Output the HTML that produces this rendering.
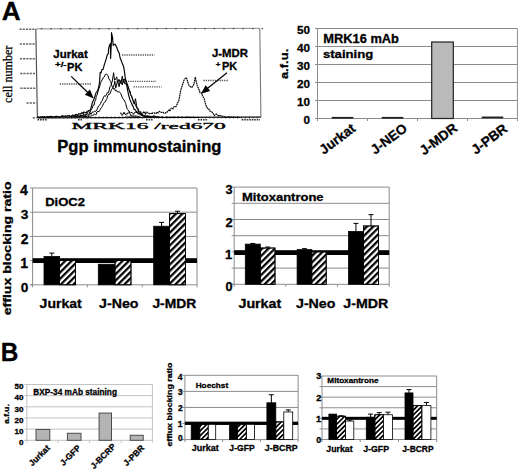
<!DOCTYPE html>
<html><head><meta charset="utf-8"><style>
html,body{margin:0;padding:0;background:#fff;}
svg{display:block;}
text{stroke:#000;stroke-width:0.3px;stroke-linejoin:round;}
</style></head><body>
<svg width="520" height="470" viewBox="0 0 520 470">
<rect width="520" height="470" fill="#fff"/>
<defs>
<pattern id="h1" patternUnits="userSpaceOnUse" width="4.5" height="4.5" patternTransform="rotate(45)"><rect x="0" y="0" width="2.25" height="4.5" fill="#000"/></pattern>
<pattern id="h2" patternUnits="userSpaceOnUse" width="3.4" height="3.4" patternTransform="rotate(45)"><rect x="0" y="0" width="1.70" height="3.4" fill="#000"/></pattern>
</defs>
<text transform="translate(1.65,19.50) scale(1.024,1)" font-size="25.51" font-weight="bold" font-family='"Liberation Sans", sans-serif' fill="#000" text-anchor="start">A</text>
<text transform="translate(0.71,361.20) scale(0.963,1)" font-size="25.36" font-weight="bold" font-family='"Liberation Sans", sans-serif' fill="#000" text-anchor="start">B</text>
<line x1="35.80" y1="28.90" x2="259.80" y2="28.30" stroke="#888" stroke-width="1" />
<line x1="40.80" y1="28.60" x2="42.30" y2="28.60" stroke="#444" stroke-width="1.2" />
<line x1="50.40" y1="28.60" x2="51.90" y2="28.60" stroke="#444" stroke-width="1.2" />
<line x1="60.00" y1="28.60" x2="61.50" y2="28.60" stroke="#444" stroke-width="1.2" />
<line x1="69.60" y1="28.60" x2="71.10" y2="28.60" stroke="#444" stroke-width="1.2" />
<line x1="79.20" y1="28.60" x2="80.70" y2="28.60" stroke="#444" stroke-width="1.2" />
<line x1="88.80" y1="28.60" x2="90.30" y2="28.60" stroke="#444" stroke-width="1.2" />
<line x1="98.40" y1="28.60" x2="99.90" y2="28.60" stroke="#444" stroke-width="1.2" />
<line x1="108.00" y1="28.60" x2="109.50" y2="28.60" stroke="#444" stroke-width="1.2" />
<line x1="117.60" y1="28.60" x2="119.10" y2="28.60" stroke="#444" stroke-width="1.2" />
<line x1="127.20" y1="28.60" x2="128.70" y2="28.60" stroke="#444" stroke-width="1.2" />
<line x1="136.80" y1="28.60" x2="138.30" y2="28.60" stroke="#444" stroke-width="1.2" />
<line x1="146.40" y1="28.60" x2="147.90" y2="28.60" stroke="#444" stroke-width="1.2" />
<line x1="156.00" y1="28.60" x2="157.50" y2="28.60" stroke="#444" stroke-width="1.2" />
<line x1="165.60" y1="28.60" x2="167.10" y2="28.60" stroke="#444" stroke-width="1.2" />
<line x1="175.20" y1="28.60" x2="176.70" y2="28.60" stroke="#444" stroke-width="1.2" />
<line x1="184.80" y1="28.60" x2="186.30" y2="28.60" stroke="#444" stroke-width="1.2" />
<line x1="194.40" y1="28.60" x2="195.90" y2="28.60" stroke="#444" stroke-width="1.2" />
<line x1="204.00" y1="28.60" x2="205.50" y2="28.60" stroke="#444" stroke-width="1.2" />
<line x1="213.60" y1="28.60" x2="215.10" y2="28.60" stroke="#444" stroke-width="1.2" />
<line x1="223.20" y1="28.60" x2="224.70" y2="28.60" stroke="#444" stroke-width="1.2" />
<line x1="232.80" y1="28.60" x2="234.30" y2="28.60" stroke="#444" stroke-width="1.2" />
<line x1="242.40" y1="28.60" x2="243.90" y2="28.60" stroke="#444" stroke-width="1.2" />
<line x1="252.00" y1="28.60" x2="253.50" y2="28.60" stroke="#444" stroke-width="1.2" />
<line x1="261.60" y1="28.60" x2="263.10" y2="28.60" stroke="#444" stroke-width="1.2" />
<line x1="259.80" y1="28.30" x2="260.90" y2="117.20" stroke="#777" stroke-width="1.1" />
<line x1="35.80" y1="28.90" x2="37.40" y2="117.80" stroke="#555" stroke-width="1.2" />
<line x1="37.40" y1="117.80" x2="260.90" y2="117.20" stroke="#111" stroke-width="1.3" />
<line x1="19.50" y1="29.20" x2="35.50" y2="29.20" stroke="#666" stroke-width="1.6" stroke-dasharray="2.2,1.0"/>
<line x1="19.70" y1="43.95" x2="35.70" y2="43.95" stroke="#666" stroke-width="1.6" stroke-dasharray="2.2,1.0"/>
<line x1="19.90" y1="58.70" x2="35.90" y2="58.70" stroke="#666" stroke-width="1.6" stroke-dasharray="2.2,1.0"/>
<line x1="20.10" y1="73.45" x2="36.10" y2="73.45" stroke="#666" stroke-width="1.6" stroke-dasharray="2.2,1.0"/>
<line x1="20.30" y1="88.20" x2="36.30" y2="88.20" stroke="#666" stroke-width="1.6" stroke-dasharray="2.2,1.0"/>
<line x1="26.50" y1="102.95" x2="36.50" y2="102.95" stroke="#666" stroke-width="1.6" stroke-dasharray="2.2,1.0"/>
<line x1="32.70" y1="117.70" x2="36.70" y2="117.70" stroke="#666" stroke-width="1.6" stroke-dasharray="2.2,1.0"/>
<line x1="37.50" y1="119.80" x2="47.50" y2="119.80" stroke="#333" stroke-width="1.6" stroke-dasharray="1.6,0.9"/>
<line x1="78.00" y1="119.80" x2="82.00" y2="119.80" stroke="#333" stroke-width="1.6" stroke-dasharray="1.6,0.9"/>
<line x1="146.00" y1="119.80" x2="153.00" y2="119.80" stroke="#333" stroke-width="1.6" stroke-dasharray="1.6,0.9"/>
<line x1="198.00" y1="119.80" x2="208.00" y2="119.80" stroke="#333" stroke-width="1.6" stroke-dasharray="1.6,0.9"/>
<line x1="241.70" y1="119.80" x2="260.00" y2="119.80" stroke="#333" stroke-width="1.6" stroke-dasharray="1.6,0.9"/>
<line x1="40.00" y1="116.30" x2="40.00" y2="118.60" stroke="#333" stroke-width="0.7" />
<line x1="43.95" y1="116.30" x2="43.95" y2="118.60" stroke="#333" stroke-width="0.7" />
<line x1="47.90" y1="116.30" x2="47.90" y2="118.60" stroke="#333" stroke-width="0.7" />
<line x1="51.85" y1="116.30" x2="51.85" y2="118.60" stroke="#333" stroke-width="0.7" />
<line x1="55.80" y1="116.30" x2="55.80" y2="118.60" stroke="#333" stroke-width="0.7" />
<line x1="59.75" y1="116.30" x2="59.75" y2="118.60" stroke="#333" stroke-width="0.7" />
<line x1="63.70" y1="116.30" x2="63.70" y2="118.60" stroke="#333" stroke-width="0.7" />
<line x1="67.65" y1="116.30" x2="67.65" y2="118.60" stroke="#333" stroke-width="0.7" />
<line x1="71.60" y1="116.30" x2="71.60" y2="118.60" stroke="#333" stroke-width="0.7" />
<line x1="75.55" y1="116.30" x2="75.55" y2="118.60" stroke="#333" stroke-width="0.7" />
<line x1="79.50" y1="116.30" x2="79.50" y2="118.60" stroke="#333" stroke-width="0.7" />
<line x1="83.45" y1="116.30" x2="83.45" y2="118.60" stroke="#333" stroke-width="0.7" />
<line x1="87.40" y1="116.30" x2="87.40" y2="118.60" stroke="#333" stroke-width="0.7" />
<line x1="91.35" y1="116.30" x2="91.35" y2="118.60" stroke="#333" stroke-width="0.7" />
<line x1="95.30" y1="116.30" x2="95.30" y2="118.60" stroke="#333" stroke-width="0.7" />
<line x1="99.25" y1="116.30" x2="99.25" y2="118.60" stroke="#333" stroke-width="0.7" />
<line x1="103.20" y1="116.30" x2="103.20" y2="118.60" stroke="#333" stroke-width="0.7" />
<line x1="107.15" y1="116.30" x2="107.15" y2="118.60" stroke="#333" stroke-width="0.7" />
<line x1="111.10" y1="116.30" x2="111.10" y2="118.60" stroke="#333" stroke-width="0.7" />
<line x1="115.05" y1="116.30" x2="115.05" y2="118.60" stroke="#333" stroke-width="0.7" />
<line x1="119.00" y1="116.30" x2="119.00" y2="118.60" stroke="#333" stroke-width="0.7" />
<line x1="122.95" y1="116.30" x2="122.95" y2="118.60" stroke="#333" stroke-width="0.7" />
<line x1="126.90" y1="116.30" x2="126.90" y2="118.60" stroke="#333" stroke-width="0.7" />
<line x1="130.85" y1="116.30" x2="130.85" y2="118.60" stroke="#333" stroke-width="0.7" />
<line x1="134.80" y1="116.30" x2="134.80" y2="118.60" stroke="#333" stroke-width="0.7" />
<line x1="138.75" y1="116.30" x2="138.75" y2="118.60" stroke="#333" stroke-width="0.7" />
<line x1="142.70" y1="116.30" x2="142.70" y2="118.60" stroke="#333" stroke-width="0.7" />
<line x1="146.65" y1="116.30" x2="146.65" y2="118.60" stroke="#333" stroke-width="0.7" />
<line x1="150.60" y1="116.30" x2="150.60" y2="118.60" stroke="#333" stroke-width="0.7" />
<line x1="154.55" y1="116.30" x2="154.55" y2="118.60" stroke="#333" stroke-width="0.7" />
<line x1="158.50" y1="116.30" x2="158.50" y2="118.60" stroke="#333" stroke-width="0.7" />
<line x1="162.45" y1="116.30" x2="162.45" y2="118.60" stroke="#333" stroke-width="0.7" />
<line x1="166.40" y1="116.30" x2="166.40" y2="118.60" stroke="#333" stroke-width="0.7" />
<line x1="170.35" y1="116.30" x2="170.35" y2="118.60" stroke="#333" stroke-width="0.7" />
<line x1="174.30" y1="116.30" x2="174.30" y2="118.60" stroke="#333" stroke-width="0.7" />
<line x1="178.25" y1="116.30" x2="178.25" y2="118.60" stroke="#333" stroke-width="0.7" />
<line x1="182.20" y1="116.30" x2="182.20" y2="118.60" stroke="#333" stroke-width="0.7" />
<line x1="186.15" y1="116.30" x2="186.15" y2="118.60" stroke="#333" stroke-width="0.7" />
<line x1="190.10" y1="116.30" x2="190.10" y2="118.60" stroke="#333" stroke-width="0.7" />
<line x1="194.05" y1="116.30" x2="194.05" y2="118.60" stroke="#333" stroke-width="0.7" />
<line x1="198.00" y1="116.30" x2="198.00" y2="118.60" stroke="#333" stroke-width="0.7" />
<line x1="201.95" y1="116.30" x2="201.95" y2="118.60" stroke="#333" stroke-width="0.7" />
<line x1="205.90" y1="116.30" x2="205.90" y2="118.60" stroke="#333" stroke-width="0.7" />
<line x1="209.85" y1="116.30" x2="209.85" y2="118.60" stroke="#333" stroke-width="0.7" />
<line x1="213.80" y1="116.30" x2="213.80" y2="118.60" stroke="#333" stroke-width="0.7" />
<line x1="217.75" y1="116.30" x2="217.75" y2="118.60" stroke="#333" stroke-width="0.7" />
<line x1="221.70" y1="116.30" x2="221.70" y2="118.60" stroke="#333" stroke-width="0.7" />
<line x1="225.65" y1="116.30" x2="225.65" y2="118.60" stroke="#333" stroke-width="0.7" />
<line x1="229.60" y1="116.30" x2="229.60" y2="118.60" stroke="#333" stroke-width="0.7" />
<line x1="233.55" y1="116.30" x2="233.55" y2="118.60" stroke="#333" stroke-width="0.7" />
<line x1="237.50" y1="116.30" x2="237.50" y2="118.60" stroke="#333" stroke-width="0.7" />
<line x1="241.45" y1="116.30" x2="241.45" y2="118.60" stroke="#333" stroke-width="0.7" />
<line x1="245.40" y1="116.30" x2="245.40" y2="118.60" stroke="#333" stroke-width="0.7" />
<line x1="249.35" y1="116.30" x2="249.35" y2="118.60" stroke="#333" stroke-width="0.7" />
<line x1="253.30" y1="116.30" x2="253.30" y2="118.60" stroke="#333" stroke-width="0.7" />
<line x1="257.25" y1="116.30" x2="257.25" y2="118.60" stroke="#333" stroke-width="0.7" />
<polyline points="37.7,117.0 38.1,117.5 39.1,117.5 39.9,117.5 41.0,117.5 42.2,117.2 42.8,117.2 44.3,117.3 45.1,117.1 46.0,117.2 46.9,117.4 48.1,117.5 49.1,117.5 50.2,117.5 51.1,117.0 52.2,117.2 53.2,117.1 54.1,117.1 55.2,117.3 55.9,117.0 57.2,117.2 57.8,116.7 58.9,116.5 59.9,117.1 61.2,116.4 62.1,116.1 63.1,116.5 64.2,117.2 65.0,117.1 65.9,116.3 67.1,116.6 67.8,117.2 69.1,116.6 69.7,116.7 70.9,116.6 72.2,115.9 73.0,116.3 74.1,116.6 75.0,116.4 76.3,116.1 77.0,116.3 77.8,116.0 79.3,116.8 80.0,117.1 80.9,116.6 81.7,115.9 83.1,115.6 84.1,116.1 85.1,116.3 86.1,116.9 86.7,116.8 88.1,117.5 88.9,114.7 90.0,112.0" fill="none" stroke="#111" stroke-width="0.9" stroke-linejoin="round" />
<polyline points="125.0,117.0 126.0,115.7 128.0,116.4 130.0,116.3 132.0,116.4 134.0,116.3 136.0,115.7 138.0,116.4 140.0,116.3 142.0,115.3 144.0,117.1 146.0,115.8 148.0,115.4 150.0,116.4 152.0,116.6 154.0,115.2 156.0,116.6 158.0,116.7" fill="none" stroke="#333" stroke-width="0.7" stroke-linejoin="round" />
<polyline points="37.5,117.2 38.1,116.8 39.0,117.3 39.9,117.3 40.5,116.8 41.6,117.3 42.3,116.6 42.9,116.9 43.7,117.2 44.9,116.5 45.4,117.2 46.4,117.1 47.1,116.4 47.8,117.1 48.6,116.6 49.5,116.6 50.3,117.2 51.0,116.1 52.2,117.1 53.1,116.6 53.8,117.1 54.2,116.9 55.4,116.8 56.0,116.3 56.7,116.2 57.3,116.7 58.3,116.9 58.9,117.0 60.1,117.0 61.1,116.9 61.7,115.8 62.6,115.9 63.2,116.5 64.2,116.1 65.3,116.3 65.7,115.8 66.9,116.0 67.7,115.8 68.2,116.0 69.4,115.4 70.2,116.5 71.0,116.3 71.4,115.9 72.7,115.0 73.2,115.2 74.2,115.4 75.0,116.0 75.5,114.5 76.4,114.4 77.2,115.7 78.5,113.7 79.1,114.0 79.8,113.8 80.8,114.1 81.5,112.9 82.3,112.5 83.2,113.8 83.9,111.9 84.6,112.3 85.7,112.9 86.3,112.6 87.3,111.2 87.9,111.0 89.0,110.5 89.8,110.2 90.4,110.1 91.7,105.2 92.4,102.5 93.6,100.1 94.3,98.2 95.4,94.6 96.2,92.4 97.2,91.3 98.1,89.2 98.8,86.6 99.5,82.5 100.2,72.4 101.0,72.9 102.0,69.5 103.1,69.4 104.2,65.1 106.2,58.9 107.2,55.1 108.3,53.7 108.6,49.0 109.4,45.7 110.4,43.6 110.6,58.4 111.5,39.9 111.5,32.5 112.6,37.9 113.2,45.4 115.1,44.1 116.5,46.8 117.6,49.9 119.3,53.5 120.1,58.0 120.8,59.5 122.3,63.6 123.7,66.8 124.6,72.7 125.7,81.0 126.8,85.9 128.6,95.1 130.0,99.9 131.6,103.2 132.3,105.1 133.5,107.3 134.1,109.5 135.4,109.7 136.1,111.3 137.0,112.5 137.5,112.4 138.2,113.9 139.2,113.4 140.0,114.0 141.1,114.0 142.0,114.9 142.6,115.1 143.6,116.0 144.2,115.7 145.1,116.5 145.7,116.5 146.9,116.5 147.3,116.2 148.4,116.8 149.4,117.1 149.8,116.4 150.6,116.4 151.7,117.2 152.7,116.6 153.5,116.7 154.1,117.2 154.7,116.6 156.0,116.8 156.6,117.2 157.6,116.7 158.2,117.1 159.2,117.0 160.1,117.5 160.7,117.3 161.4,117.1 162.5,117.0 163.4,117.5 163.8,117.5 164.7,117.5 165.8,117.2 166.5,117.5 167.4,117.1 168.2,117.5 168.9,117.4 169.4,117.3 170.3,117.5 171.3,117.4 171.8,117.5 172.9,117.1 173.8,117.5 174.2,117.5 175.0,117.2 176.1,117.5 176.8,117.5 177.6,117.2 178.2,117.0 179.3,117.5 180.0,117.5 180.7,117.2 181.5,117.5 182.1,117.4 183.0,117.5 183.9,117.3 184.7,117.5 185.8,117.3 186.6,117.1 187.1,117.1 187.8,117.5 188.9,117.2 189.4,117.4 190.5,117.5 191.3,117.5 191.8,117.4 192.6,117.5 193.6,117.2 194.3,117.5 194.9,117.5 196.2,117.5 196.7,117.5 197.6,117.5 198.7,117.5 199.1,117.5 200.0,117.5" fill="none" stroke="#000" stroke-width="1.15" stroke-linejoin="round" />
<polyline points="70.0,117.1 71.0,116.4 71.8,117.0 72.5,116.7 73.3,116.2 74.2,115.9 75.0,116.5 75.8,116.3 76.9,116.7 77.3,116.4 78.4,115.2 79.1,115.4 79.7,115.7 81.1,115.3 81.9,115.8 82.3,115.9 83.4,116.0 84.3,115.5 84.9,115.6 86.1,115.3 86.6,114.6 87.5,112.5 88.1,111.9 89.0,111.6 90.0,112.5 90.8,110.3 91.7,108.5 92.4,108.2 93.1,105.2 94.2,105.1 94.7,101.7 95.7,99.8 96.3,95.7 97.1,95.2 97.9,91.9 98.8,88.8 99.6,86.8 100.4,83.4 101.3,81.5 102.5,79.1 103.1,77.9 104.4,76.8 105.3,74.3 106.6,74.2 108.1,75.6 108.7,78.2 109.8,80.5 110.8,81.4 111.6,85.2 112.7,87.5 113.7,89.0 114.5,88.3 115.4,90.9 116.5,90.3 117.1,91.7 118.6,92.0 118.9,91.5 119.9,92.7 120.7,93.3 122.1,97.0 122.8,98.7 124.0,99.8 125.3,102.6 125.7,103.5 126.9,108.2 127.5,109.5 128.9,110.7 129.7,112.9 130.9,115.8 131.4,115.6 132.6,116.0 133.3,116.3 134.1,115.7 134.8,116.4 135.8,116.0 136.5,116.7 137.6,116.9 138.3,116.9 139.0,117.3 140.0,117.3" fill="none" stroke="#000" stroke-width="1.0" stroke-linejoin="round" />
<polyline points="74.7,117.0 76.0,117.0 76.4,116.4 77.7,116.7 78.6,116.8 79.1,116.7 80.1,115.8 80.8,115.2 81.6,116.4 82.3,115.6 83.1,114.6 84.3,114.7 84.7,114.4 85.9,115.0 86.4,114.1 87.8,113.9 88.4,114.2 89.3,114.4 90.2,114.1 90.6,112.9 91.4,114.2 92.3,111.9 93.6,112.0 94.4,111.4 95.0,111.5 96.1,111.0 96.9,109.8 97.9,107.2 98.7,105.9 99.3,105.4 100.5,103.8 101.2,101.6 102.3,100.6 103.1,98.0 104.5,95.7 105.4,96.3 106.3,94.9 107.3,92.7 108.2,93.0 109.3,89.9 110.0,86.6 110.9,85.7 112.3,81.2 113.6,72.7 114.5,80.1 115.0,80.2 116.8,76.9 117.5,82.7 118.9,79.3 120.8,83.5 122.3,76.2 123.3,82.6 124.5,79.1 125.5,79.1 126.3,80.9 127.2,84.2 128.3,88.3 129.1,89.8 130.1,93.1 131.0,95.0 132.5,99.0 133.6,101.8 134.6,102.2 135.2,104.1 136.4,107.2 137.5,109.4 138.7,111.7 139.4,114.1 140.4,113.4 141.0,115.3 141.7,114.9 142.8,115.7 143.4,115.2 144.2,116.4 145.2,116.9 146.2,117.0 146.5,116.2 147.3,116.7 148.3,116.5 149.2,116.7 150.0,117.3" fill="none" stroke="#000" stroke-width="1.0" stroke-linejoin="round" />
<polyline points="79.9,116.7 81.0,116.8 81.5,116.3 82.4,116.8 83.3,117.1 84.2,116.2 84.6,116.7 85.8,116.3 86.6,116.3 87.1,115.6 87.7,116.2 89.0,116.5 89.6,116.1 90.7,116.2 91.3,115.5 92.0,115.0 92.6,115.4 94.0,114.8 94.5,113.9 95.3,114.5 96.2,114.6 96.9,112.0 98.0,111.4 99.1,111.6 100.0,110.2 100.3,109.2 101.6,107.5 102.3,106.5 103.6,103.5 104.4,102.3 105.2,101.9 106.4,99.4 106.9,98.6 107.8,95.7 109.1,94.0 109.7,94.2 111.0,91.1 111.6,89.5 113.1,87.3 114.4,83.9 114.8,81.2 115.7,88.1 117.6,80.9 119.1,86.8 120.2,80.4 122.3,84.9 123.4,79.0 124.9,84.1 125.7,83.8 127.3,84.1 128.2,86.5 129.3,90.1 130.1,91.1 130.7,95.3 131.8,96.5 133.2,101.0 134.2,104.2 135.5,98.7 136.8,106.7 138.3,108.9 138.8,111.1 139.6,112.3 140.8,112.3 141.2,115.1 142.5,115.7 142.8,115.3 144.1,115.6 144.8,115.5 145.2,115.8 146.4,116.5 147.1,116.3 147.9,116.4 148.7,117.0 149.4,116.9 150.6,117.3 151.0,117.5 152.0,117.3" fill="none" stroke="#000" stroke-width="1.0" stroke-linejoin="round" />
<polyline points="120.2,113.1 120.9,113.1 121.7,115.1 122.9,114.7 123.8,112.2 125.2,114.4 126.3,113.9 127.0,114.1 127.8,113.3 129.0,112.0 130.1,112.5 131.0,112.5 131.9,112.4 133.1,114.1 134.3,113.7 135.2,111.9 136.3,111.7 136.8,112.3 138.1,111.7 139.1,111.4 140.3,111.9 141.1,112.3 142.4,113.9 143.3,112.5 144.4,111.6 145.4,114.1 146.7,112.0 147.8,113.2 149.0,113.3 149.6,113.7 151.1,113.3 152.1,114.0 152.9,112.7 154.1,112.8 155.1,113.5 156.5,113.2 157.1,112.0 158.3,113.0 159.3,111.3 160.5,111.8 161.4,112.5 163.0,112.3 164.0,113.1 165.1,113.3 166.0,112.4 166.8,112.5 168.0,110.8 169.4,109.7 170.0,110.8 171.3,108.1 171.9,108.2 172.9,108.9 174.1,106.6 175.2,106.6 176.3,106.3 177.7,102.7 178.7,101.2 180.8,90.0 182.4,85.0 184.0,80.3 184.7,78.9 186.4,77.6 187.8,82.0 188.9,85.3 190.4,86.8 191.8,87.4 193.8,84.6 195.3,77.4 196.2,81.3 197.3,85.9 199.0,89.5 200.0,92.6 201.5,93.0 202.5,95.7 204.2,98.7 205.3,103.2 206.5,106.7 208.1,109.1 209.3,109.3 210.1,111.2 211.4,111.6 212.9,112.9 213.9,115.2 214.6,115.4 215.8,114.1 216.7,114.1 217.9,115.2 219.1,116.2 219.7,115.7 220.9,115.6 221.8,116.0 223.1,116.3 223.8,116.4 225.0,117.1 225.8,117.3 226.8,117.3 228.1,116.7 229.2,117.0 230.0,117.3 231.1,117.1 231.7,117.5 233.2,117.3 234.0,117.1 235.2,117.5 235.8,117.5 237.3,117.3 238.3,117.4 238.8,117.5 240.0,117.5" fill="none" stroke="#000" stroke-width="1.15" stroke-linejoin="round" stroke-dasharray="1.8,0.5"/>
<line x1="59.70" y1="84.00" x2="91.60" y2="84.00" stroke="#555" stroke-width="1.3" stroke-dasharray="1.3,1.0"/>
<line x1="121.90" y1="55.00" x2="154.50" y2="55.00" stroke="#555" stroke-width="1.3" stroke-dasharray="1.3,1.0"/>
<line x1="128.00" y1="81.40" x2="156.30" y2="81.40" stroke="#555" stroke-width="1.3" stroke-dasharray="1.3,1.0"/>
<line x1="133.50" y1="86.80" x2="161.70" y2="86.80" stroke="#555" stroke-width="1.3" stroke-dasharray="1.3,1.0"/>
<line x1="203.40" y1="80.50" x2="227.70" y2="80.50" stroke="#555" stroke-width="1.3" stroke-dasharray="1.3,1.0"/>
<text transform="translate(53.33,57.60) scale(1.097,1)" font-size="10.48" font-weight="bold" font-family='"Liberation Sans", sans-serif' fill="#000" text-anchor="start">Jurkat</text>
<text transform="translate(55.01,66.87) scale(1.535,1)" font-size="6.31" font-weight="bold" font-family='"Liberation Sans", sans-serif' fill="#000" text-anchor="start">+/-</text>
<text transform="translate(67.08,70.80) scale(1.046,1)" font-size="10.58" font-weight="bold" font-family='"Liberation Sans", sans-serif' fill="#000" text-anchor="start">PK</text>
<text transform="translate(211.93,56.69) scale(1.034,1)" font-size="11.00" font-weight="bold" font-family='"Liberation Sans", sans-serif' fill="#000" text-anchor="start">J-MDR</text>
<text transform="translate(215.68,66.77) scale(1.036,1)" font-size="7.65" font-weight="bold" font-family='"Liberation Sans", sans-serif' fill="#000" text-anchor="start">+</text>
<text transform="translate(222.09,69.90) scale(0.991,1)" font-size="11.01" font-weight="bold" font-family='"Liberation Sans", sans-serif' fill="#000" text-anchor="start">PK</text>
<line x1="71.20" y1="76.40" x2="88.78" y2="93.52" stroke="#000" stroke-width="1.2" />
<polygon points="93.8,98.4 84.8,94.7 89.9,89.5" fill="#000"/>
<line x1="227.00" y1="72.70" x2="206.35" y2="89.31" stroke="#000" stroke-width="1.2" />
<polygon points="200.9,93.7 205.7,85.3 210.2,90.9" fill="#000"/>
<text transform="translate(11.57,102.98) rotate(-90) scale(0.947,1)" font-size="12.77" font-weight="normal" font-family='"Liberation Serif", serif' fill="#000" text-anchor="start">cell number</text>
<text transform="translate(71.50,129.42) scale(3.006,1)" font-size="7.80" font-weight="normal" font-family='"Liberation Serif", serif' fill="#111" text-anchor="start">MRK16 /red670</text>
<text transform="translate(57.22,152.05) scale(1.043,1)" font-size="15.94" font-weight="bold" font-family='"Liberation Sans", sans-serif' fill="#000" text-anchor="start">Pgp immunostaining</text>
<line x1="317.50" y1="100.50" x2="517.40" y2="100.50" stroke="#8c8c8c" stroke-width="1" />
<line x1="317.50" y1="82.50" x2="517.40" y2="82.50" stroke="#8c8c8c" stroke-width="1" />
<line x1="317.50" y1="64.50" x2="517.40" y2="64.50" stroke="#8c8c8c" stroke-width="1" />
<line x1="317.50" y1="46.50" x2="517.40" y2="46.50" stroke="#8c8c8c" stroke-width="1" />
<line x1="317.50" y1="28.50" x2="517.40" y2="28.50" stroke="#8c8c8c" stroke-width="1" />
<line x1="317.50" y1="28.50" x2="317.50" y2="118.50" stroke="#8c8c8c" stroke-width="1" />
<line x1="517.40" y1="28.50" x2="517.40" y2="118.50" stroke="#8c8c8c" stroke-width="1" />
<line x1="315.00" y1="118.50" x2="517.40" y2="118.50" stroke="#8c8c8c" stroke-width="1" />
<line x1="315.00" y1="118.50" x2="317.50" y2="118.50" stroke="#8c8c8c" stroke-width="1" />
<text transform="translate(303.48,124.38)" font-size="11.69" font-weight="bold" font-family='"Liberation Sans", sans-serif' fill="#000" text-anchor="start">0</text>
<line x1="315.00" y1="100.50" x2="317.50" y2="100.50" stroke="#8c8c8c" stroke-width="1" />
<text transform="translate(296.99,106.38)" font-size="11.69" font-weight="bold" font-family='"Liberation Sans", sans-serif' fill="#000" text-anchor="start">10</text>
<line x1="315.00" y1="82.50" x2="317.50" y2="82.50" stroke="#8c8c8c" stroke-width="1" />
<text transform="translate(296.99,88.38)" font-size="11.69" font-weight="bold" font-family='"Liberation Sans", sans-serif' fill="#000" text-anchor="start">20</text>
<line x1="315.00" y1="64.50" x2="317.50" y2="64.50" stroke="#8c8c8c" stroke-width="1" />
<text transform="translate(296.99,70.38)" font-size="11.69" font-weight="bold" font-family='"Liberation Sans", sans-serif' fill="#000" text-anchor="start">30</text>
<line x1="315.00" y1="46.50" x2="317.50" y2="46.50" stroke="#8c8c8c" stroke-width="1" />
<text transform="translate(296.99,52.38)" font-size="11.69" font-weight="bold" font-family='"Liberation Sans", sans-serif' fill="#000" text-anchor="start">40</text>
<line x1="315.00" y1="28.50" x2="317.50" y2="28.50" stroke="#8c8c8c" stroke-width="1" />
<text transform="translate(296.99,34.38)" font-size="11.69" font-weight="bold" font-family='"Liberation Sans", sans-serif' fill="#000" text-anchor="start">50</text>
<line x1="317.50" y1="118.50" x2="317.50" y2="121.00" stroke="#8c8c8c" stroke-width="1" />
<line x1="367.50" y1="118.50" x2="367.50" y2="121.00" stroke="#8c8c8c" stroke-width="1" />
<line x1="417.50" y1="118.50" x2="417.50" y2="121.00" stroke="#8c8c8c" stroke-width="1" />
<line x1="467.50" y1="118.50" x2="467.50" y2="121.00" stroke="#8c8c8c" stroke-width="1" />
<line x1="517.50" y1="118.50" x2="517.50" y2="121.00" stroke="#8c8c8c" stroke-width="1" />
<text transform="translate(287.68,78.99) rotate(-90) scale(1.122,1)" font-size="11.56" font-weight="bold" font-family='"Liberation Sans", sans-serif' fill="#000" text-anchor="start">a.f.u.</text>
<text transform="translate(323.26,42.87) scale(1.027,1)" font-size="12.52" font-weight="bold" font-family='"Liberation Sans", sans-serif' fill="#000" text-anchor="start">MRK16 mAb</text>
<text transform="translate(322.94,58.27) scale(1.138,1)" font-size="11.55" font-weight="bold" font-family='"Liberation Sans", sans-serif' fill="#000" text-anchor="start">staining</text>
<rect x="331.70" y="116.90" width="21.60" height="1.80" fill="#222" />
<rect x="381.70" y="116.90" width="21.60" height="1.80" fill="#222" />
<rect x="431.70" y="42.00" width="21.60" height="76.50" fill="#bababa" stroke="#222" stroke-width="1.2" />
<rect x="481.70" y="116.54" width="21.60" height="1.80" fill="#222" />
<text transform="translate(323.86,154.88) rotate(-37)" font-size="13.60" font-weight="bold" font-family='"Liberation Sans", sans-serif' fill="#000" text-anchor="start">Jurkat</text>
<text transform="translate(374.97,155.10) rotate(-37)" font-size="13.60" font-weight="bold" font-family='"Liberation Sans", sans-serif' fill="#000" text-anchor="start">J-NEO</text>
<text transform="translate(423.92,155.82) rotate(-37)" font-size="13.60" font-weight="bold" font-family='"Liberation Sans", sans-serif' fill="#000" text-anchor="start">J-MDR</text>
<text transform="translate(475.82,155.10) rotate(-37)" font-size="13.60" font-weight="bold" font-family='"Liberation Sans", sans-serif' fill="#000" text-anchor="start">J-PBR</text>
<line x1="32.60" y1="260.60" x2="197.00" y2="260.60" stroke="#8c8c8c" stroke-width="1" />
<line x1="32.60" y1="236.40" x2="197.00" y2="236.40" stroke="#8c8c8c" stroke-width="1" />
<line x1="32.60" y1="212.20" x2="197.00" y2="212.20" stroke="#8c8c8c" stroke-width="1" />
<line x1="32.60" y1="188.00" x2="197.00" y2="188.00" stroke="#8c8c8c" stroke-width="1" />
<line x1="32.60" y1="188.00" x2="32.60" y2="284.80" stroke="#8c8c8c" stroke-width="1" />
<line x1="197.00" y1="188.00" x2="197.00" y2="284.80" stroke="#8c8c8c" stroke-width="1" />
<line x1="30.10" y1="284.80" x2="197.00" y2="284.80" stroke="#8c8c8c" stroke-width="1" />
<line x1="32.60" y1="284.80" x2="32.60" y2="287.30" stroke="#8c8c8c" stroke-width="1" />
<line x1="87.40" y1="284.80" x2="87.40" y2="287.30" stroke="#8c8c8c" stroke-width="1" />
<line x1="142.20" y1="284.80" x2="142.20" y2="287.30" stroke="#8c8c8c" stroke-width="1" />
<line x1="197.00" y1="284.80" x2="197.00" y2="287.30" stroke="#8c8c8c" stroke-width="1" />
<line x1="30.10" y1="284.80" x2="32.60" y2="284.80" stroke="#8c8c8c" stroke-width="1" />
<line x1="30.10" y1="260.60" x2="32.60" y2="260.60" stroke="#8c8c8c" stroke-width="1" />
<line x1="30.10" y1="236.40" x2="32.60" y2="236.40" stroke="#8c8c8c" stroke-width="1" />
<line x1="30.10" y1="212.20" x2="32.60" y2="212.20" stroke="#8c8c8c" stroke-width="1" />
<line x1="30.10" y1="188.00" x2="32.60" y2="188.00" stroke="#8c8c8c" stroke-width="1" />
<text transform="translate(20.76,291.81)" font-size="13.66" font-weight="bold" font-family='"Liberation Sans", sans-serif' fill="#000" text-anchor="start">0</text>
<text transform="translate(20.35,267.75)" font-size="14.06" font-weight="bold" font-family='"Liberation Sans", sans-serif' fill="#000" text-anchor="start">1</text>
<text transform="translate(20.66,243.55)" font-size="13.86" font-weight="bold" font-family='"Liberation Sans", sans-serif' fill="#000" text-anchor="start">2</text>
<text transform="translate(20.70,219.21)" font-size="13.66" font-weight="bold" font-family='"Liberation Sans", sans-serif' fill="#000" text-anchor="start">3</text>
<text transform="translate(20.07,195.15)" font-size="14.06" font-weight="bold" font-family='"Liberation Sans", sans-serif' fill="#000" text-anchor="start">4</text>
<rect x="32.60" y="258.20" width="164.40" height="4.80" fill="#000" />
<rect x="44.00" y="256.49" width="15.60" height="28.31" fill="#000" stroke="#000" stroke-width="0.8" />
<line x1="51.80" y1="256.49" x2="51.80" y2="253.10" stroke="#000" stroke-width="1" />
<line x1="49.30" y1="253.10" x2="54.30" y2="253.10" stroke="#000" stroke-width="1" />
<rect x="59.60" y="260.60" width="15.80" height="24.20" fill="#fff" stroke="#000" stroke-width="0.8" />
<rect x="59.60" y="260.60" width="15.80" height="24.20" fill="url(#h1)" stroke="#000" stroke-width="0.8" />
<rect x="98.30" y="264.23" width="16.70" height="20.57" fill="#000" stroke="#000" stroke-width="0.8" />
<rect x="115.00" y="260.60" width="16.00" height="24.20" fill="#fff" stroke="#000" stroke-width="0.8" />
<rect x="115.00" y="260.60" width="16.00" height="24.20" fill="url(#h1)" stroke="#000" stroke-width="0.8" />
<rect x="153.70" y="226.24" width="15.80" height="58.56" fill="#000" stroke="#000" stroke-width="0.8" />
<line x1="161.60" y1="226.24" x2="161.60" y2="222.36" stroke="#000" stroke-width="1" />
<line x1="159.10" y1="222.36" x2="164.10" y2="222.36" stroke="#000" stroke-width="1" />
<rect x="169.50" y="213.65" width="16.00" height="71.15" fill="#fff" stroke="#000" stroke-width="0.8" />
<rect x="169.50" y="213.65" width="16.00" height="71.15" fill="url(#h1)" stroke="#000" stroke-width="0.8" />
<line x1="177.50" y1="213.65" x2="177.50" y2="211.23" stroke="#000" stroke-width="1" />
<line x1="175.00" y1="211.23" x2="180.00" y2="211.23" stroke="#000" stroke-width="1" />
<text transform="translate(10.53,315.26) rotate(-90) scale(1.305,1)" font-size="10.80" font-weight="bold" font-family='"Liberation Sans", sans-serif' fill="#000" text-anchor="start">efflux blocking ratio</text>
<text transform="translate(45.15,206.39) scale(1.153,1)" font-size="11.29" font-weight="bold" font-family='"Liberation Sans", sans-serif' fill="#000" text-anchor="start">DiOC2</text>
<text transform="translate(39.59,308.07) scale(1.099,1)" font-size="12.79" font-weight="bold" font-family='"Liberation Sans", sans-serif' fill="#000" text-anchor="start">Jurkat</text>
<text transform="translate(99.09,308.07) scale(1.055,1)" font-size="13.43" font-weight="bold" font-family='"Liberation Sans", sans-serif' fill="#000" text-anchor="start">J-Neo</text>
<text transform="translate(152.39,308.07) scale(1.033,1)" font-size="13.43" font-weight="bold" font-family='"Liberation Sans", sans-serif' fill="#000" text-anchor="start">J-MDR</text>
<line x1="234.20" y1="268.10" x2="389.20" y2="268.10" stroke="#8c8c8c" stroke-width="1" />
<line x1="234.20" y1="251.90" x2="389.20" y2="251.90" stroke="#8c8c8c" stroke-width="1" />
<line x1="234.20" y1="235.70" x2="389.20" y2="235.70" stroke="#8c8c8c" stroke-width="1" />
<line x1="234.20" y1="219.50" x2="389.20" y2="219.50" stroke="#8c8c8c" stroke-width="1" />
<line x1="234.20" y1="203.30" x2="389.20" y2="203.30" stroke="#8c8c8c" stroke-width="1" />
<line x1="234.20" y1="187.10" x2="389.20" y2="187.10" stroke="#8c8c8c" stroke-width="1" />
<line x1="234.20" y1="187.10" x2="234.20" y2="284.30" stroke="#8c8c8c" stroke-width="1" />
<line x1="389.20" y1="187.10" x2="389.20" y2="284.30" stroke="#8c8c8c" stroke-width="1" />
<line x1="231.70" y1="284.30" x2="389.20" y2="284.30" stroke="#8c8c8c" stroke-width="1" />
<line x1="234.20" y1="284.30" x2="234.20" y2="286.80" stroke="#8c8c8c" stroke-width="1" />
<line x1="285.87" y1="284.30" x2="285.87" y2="286.80" stroke="#8c8c8c" stroke-width="1" />
<line x1="337.53" y1="284.30" x2="337.53" y2="286.80" stroke="#8c8c8c" stroke-width="1" />
<line x1="389.20" y1="284.30" x2="389.20" y2="286.80" stroke="#8c8c8c" stroke-width="1" />
<line x1="231.70" y1="284.30" x2="234.20" y2="284.30" stroke="#8c8c8c" stroke-width="1" />
<line x1="231.70" y1="268.10" x2="234.20" y2="268.10" stroke="#8c8c8c" stroke-width="1" />
<line x1="231.70" y1="251.90" x2="234.20" y2="251.90" stroke="#8c8c8c" stroke-width="1" />
<line x1="231.70" y1="235.70" x2="234.20" y2="235.70" stroke="#8c8c8c" stroke-width="1" />
<line x1="231.70" y1="219.50" x2="234.20" y2="219.50" stroke="#8c8c8c" stroke-width="1" />
<line x1="231.70" y1="203.30" x2="234.20" y2="203.30" stroke="#8c8c8c" stroke-width="1" />
<line x1="231.70" y1="187.10" x2="234.20" y2="187.10" stroke="#8c8c8c" stroke-width="1" />
<text transform="translate(225.47,291.17)" font-size="12.68" font-weight="bold" font-family='"Liberation Sans", sans-serif' fill="#000" text-anchor="start">0</text>
<text transform="translate(225.09,258.90)" font-size="13.04" font-weight="bold" font-family='"Liberation Sans", sans-serif' fill="#000" text-anchor="start">1</text>
<text transform="translate(225.38,226.50)" font-size="12.86" font-weight="bold" font-family='"Liberation Sans", sans-serif' fill="#000" text-anchor="start">2</text>
<text transform="translate(225.41,193.97)" font-size="12.68" font-weight="bold" font-family='"Liberation Sans", sans-serif' fill="#000" text-anchor="start">3</text>
<rect x="234.20" y="250.20" width="155.00" height="4.80" fill="#000" />
<rect x="245.30" y="244.12" width="15.00" height="40.18" fill="#000" stroke="#000" stroke-width="0.8" />
<line x1="252.80" y1="244.12" x2="252.80" y2="243.48" stroke="#000" stroke-width="1" />
<line x1="250.30" y1="243.48" x2="255.30" y2="243.48" stroke="#000" stroke-width="1" />
<rect x="260.30" y="248.01" width="14.70" height="36.29" fill="#fff" stroke="#000" stroke-width="0.8" />
<rect x="260.30" y="248.01" width="14.70" height="36.29" fill="url(#h1)" stroke="#000" stroke-width="0.8" />
<line x1="267.65" y1="248.01" x2="267.65" y2="247.04" stroke="#000" stroke-width="1" />
<line x1="265.15" y1="247.04" x2="270.15" y2="247.04" stroke="#000" stroke-width="1" />
<rect x="297.10" y="249.63" width="14.70" height="34.67" fill="#000" stroke="#000" stroke-width="0.8" />
<line x1="304.45" y1="249.63" x2="304.45" y2="248.66" stroke="#000" stroke-width="1" />
<line x1="301.95" y1="248.66" x2="306.95" y2="248.66" stroke="#000" stroke-width="1" />
<rect x="311.80" y="251.90" width="14.40" height="32.40" fill="#fff" stroke="#000" stroke-width="0.8" />
<rect x="311.80" y="251.90" width="14.40" height="32.40" fill="url(#h1)" stroke="#000" stroke-width="0.8" />
<rect x="348.50" y="231.49" width="14.90" height="52.81" fill="#000" stroke="#000" stroke-width="0.8" />
<line x1="355.95" y1="231.49" x2="355.95" y2="223.39" stroke="#000" stroke-width="1" />
<line x1="353.45" y1="223.39" x2="358.45" y2="223.39" stroke="#000" stroke-width="1" />
<rect x="363.40" y="225.98" width="15.20" height="58.32" fill="#fff" stroke="#000" stroke-width="0.8" />
<rect x="363.40" y="225.98" width="15.20" height="58.32" fill="url(#h1)" stroke="#000" stroke-width="0.8" />
<line x1="371.00" y1="225.98" x2="371.00" y2="214.64" stroke="#000" stroke-width="1" />
<line x1="368.50" y1="214.64" x2="373.50" y2="214.64" stroke="#000" stroke-width="1" />
<text transform="translate(241.95,200.59) scale(1.181,1)" font-size="11.02" font-weight="bold" font-family='"Liberation Sans", sans-serif' fill="#000" text-anchor="start">Mitoxantrone</text>
<text transform="translate(238.49,308.47) scale(1.114,1)" font-size="12.79" font-weight="bold" font-family='"Liberation Sans", sans-serif' fill="#000" text-anchor="start">Jurkat</text>
<text transform="translate(295.99,308.47) scale(1.058,1)" font-size="13.43" font-weight="bold" font-family='"Liberation Sans", sans-serif' fill="#000" text-anchor="start">J-Neo</text>
<text transform="translate(343.29,308.47) scale(1.059,1)" font-size="13.43" font-weight="bold" font-family='"Liberation Sans", sans-serif' fill="#000" text-anchor="start">J-MDR</text>
<line x1="26.80" y1="429.14" x2="152.40" y2="429.14" stroke="#c2c2c2" stroke-width="1" />
<line x1="26.80" y1="417.98" x2="152.40" y2="417.98" stroke="#c2c2c2" stroke-width="1" />
<line x1="26.80" y1="406.82" x2="152.40" y2="406.82" stroke="#c2c2c2" stroke-width="1" />
<line x1="26.80" y1="395.66" x2="152.40" y2="395.66" stroke="#c2c2c2" stroke-width="1" />
<line x1="26.80" y1="384.50" x2="152.40" y2="384.50" stroke="#c2c2c2" stroke-width="1" />
<line x1="26.80" y1="384.50" x2="26.80" y2="440.30" stroke="#c2c2c2" stroke-width="1" />
<line x1="152.40" y1="384.50" x2="152.40" y2="440.30" stroke="#c2c2c2" stroke-width="1" />
<line x1="24.30" y1="440.30" x2="152.40" y2="440.30" stroke="#c2c2c2" stroke-width="1" />
<line x1="24.30" y1="440.30" x2="26.80" y2="440.30" stroke="#c2c2c2" stroke-width="1" />
<text transform="translate(18.95,445.13) scale(1.100,1)" font-size="7.32" font-weight="bold" font-family='"Liberation Sans", sans-serif' fill="#000" text-anchor="start">0</text>
<line x1="24.30" y1="429.14" x2="26.80" y2="429.14" stroke="#c2c2c2" stroke-width="1" />
<text transform="translate(14.48,433.97) scale(1.100,1)" font-size="7.32" font-weight="bold" font-family='"Liberation Sans", sans-serif' fill="#000" text-anchor="start">10</text>
<line x1="24.30" y1="417.98" x2="26.80" y2="417.98" stroke="#c2c2c2" stroke-width="1" />
<text transform="translate(14.48,422.81) scale(1.100,1)" font-size="7.32" font-weight="bold" font-family='"Liberation Sans", sans-serif' fill="#000" text-anchor="start">20</text>
<line x1="24.30" y1="406.82" x2="26.80" y2="406.82" stroke="#c2c2c2" stroke-width="1" />
<text transform="translate(14.48,411.65) scale(1.100,1)" font-size="7.32" font-weight="bold" font-family='"Liberation Sans", sans-serif' fill="#000" text-anchor="start">30</text>
<line x1="24.30" y1="395.66" x2="26.80" y2="395.66" stroke="#c2c2c2" stroke-width="1" />
<text transform="translate(14.48,400.49) scale(1.100,1)" font-size="7.32" font-weight="bold" font-family='"Liberation Sans", sans-serif' fill="#000" text-anchor="start">40</text>
<line x1="24.30" y1="384.50" x2="26.80" y2="384.50" stroke="#c2c2c2" stroke-width="1" />
<text transform="translate(14.48,389.33) scale(1.100,1)" font-size="7.32" font-weight="bold" font-family='"Liberation Sans", sans-serif' fill="#000" text-anchor="start">50</text>
<line x1="26.80" y1="440.30" x2="26.80" y2="442.80" stroke="#c2c2c2" stroke-width="1" />
<line x1="58.20" y1="440.30" x2="58.20" y2="442.80" stroke="#c2c2c2" stroke-width="1" />
<line x1="89.60" y1="440.30" x2="89.60" y2="442.80" stroke="#c2c2c2" stroke-width="1" />
<line x1="121.00" y1="440.30" x2="121.00" y2="442.80" stroke="#c2c2c2" stroke-width="1" />
<line x1="152.40" y1="440.30" x2="152.40" y2="442.80" stroke="#c2c2c2" stroke-width="1" />
<text transform="translate(8.82,423.65) rotate(-90) scale(1.092,1)" font-size="7.62" font-weight="bold" font-family='"Liberation Sans", sans-serif' fill="#000" text-anchor="start">a.f.u.</text>
<text transform="translate(33.36,395.35) scale(0.992,1)" font-size="8.34" font-weight="bold" font-family='"Liberation Sans", sans-serif' fill="#000" text-anchor="start">BXP-34 mAb staining</text>
<rect x="36.00" y="429.47" width="13.80" height="10.83" fill="#b4b4b4" stroke="#4a4a4a" stroke-width="1" />
<rect x="67.40" y="433.27" width="13.60" height="7.03" fill="#b4b4b4" stroke="#4a4a4a" stroke-width="1" />
<rect x="99.10" y="413.07" width="12.40" height="27.23" fill="#b4b4b4" stroke="#4a4a4a" stroke-width="1" />
<rect x="130.20" y="435.28" width="13.00" height="5.02" fill="#b4b4b4" stroke="#4a4a4a" stroke-width="1" />
<text transform="translate(32.37,466.58) rotate(-45)" font-size="8.50" font-weight="bold" font-family='"Liberation Sans", sans-serif' fill="#000" text-anchor="start">Jurkat</text>
<text transform="translate(63.52,466.18) rotate(-45)" font-size="8.50" font-weight="bold" font-family='"Liberation Sans", sans-serif' fill="#000" text-anchor="start">J-GFP</text>
<text transform="translate(93.94,469.46) rotate(-45)" font-size="8.50" font-weight="bold" font-family='"Liberation Sans", sans-serif' fill="#000" text-anchor="start">J-BCRP</text>
<text transform="translate(126.84,466.54) rotate(-45)" font-size="8.50" font-weight="bold" font-family='"Liberation Sans", sans-serif' fill="#000" text-anchor="start">J-PBR</text>
<line x1="184.90" y1="423.53" x2="298.10" y2="423.53" stroke="#8c8c8c" stroke-width="1" />
<line x1="184.90" y1="407.45" x2="298.10" y2="407.45" stroke="#8c8c8c" stroke-width="1" />
<line x1="184.90" y1="391.38" x2="298.10" y2="391.38" stroke="#8c8c8c" stroke-width="1" />
<line x1="184.90" y1="375.30" x2="298.10" y2="375.30" stroke="#8c8c8c" stroke-width="1" />
<line x1="184.90" y1="375.30" x2="184.90" y2="439.60" stroke="#8c8c8c" stroke-width="1" />
<line x1="298.10" y1="375.30" x2="298.10" y2="439.60" stroke="#8c8c8c" stroke-width="1" />
<line x1="182.40" y1="439.60" x2="298.10" y2="439.60" stroke="#8c8c8c" stroke-width="1" />
<line x1="184.90" y1="439.60" x2="184.90" y2="442.10" stroke="#8c8c8c" stroke-width="1" />
<line x1="222.63" y1="439.60" x2="222.63" y2="442.10" stroke="#8c8c8c" stroke-width="1" />
<line x1="260.37" y1="439.60" x2="260.37" y2="442.10" stroke="#8c8c8c" stroke-width="1" />
<line x1="298.10" y1="439.60" x2="298.10" y2="442.10" stroke="#8c8c8c" stroke-width="1" />
<line x1="182.40" y1="439.60" x2="184.90" y2="439.60" stroke="#8c8c8c" stroke-width="1" />
<line x1="182.40" y1="423.53" x2="184.90" y2="423.53" stroke="#8c8c8c" stroke-width="1" />
<line x1="182.40" y1="407.45" x2="184.90" y2="407.45" stroke="#8c8c8c" stroke-width="1" />
<line x1="182.40" y1="391.38" x2="184.90" y2="391.38" stroke="#8c8c8c" stroke-width="1" />
<line x1="182.40" y1="375.30" x2="184.90" y2="375.30" stroke="#8c8c8c" stroke-width="1" />
<text transform="translate(178.12,441.07)" font-size="8.31" font-weight="bold" font-family='"Liberation Sans", sans-serif' fill="#000" text-anchor="start">0</text>
<text transform="translate(177.87,426.75)" font-size="8.55" font-weight="bold" font-family='"Liberation Sans", sans-serif' fill="#000" text-anchor="start">1</text>
<text transform="translate(178.06,411.35)" font-size="8.43" font-weight="bold" font-family='"Liberation Sans", sans-serif' fill="#000" text-anchor="start">2</text>
<text transform="translate(178.08,395.17)" font-size="8.31" font-weight="bold" font-family='"Liberation Sans", sans-serif' fill="#000" text-anchor="start">3</text>
<text transform="translate(177.70,380.45)" font-size="8.55" font-weight="bold" font-family='"Liberation Sans", sans-serif' fill="#000" text-anchor="start">4</text>
<rect x="184.90" y="421.65" width="113.20" height="3.30" fill="#000" />
<rect x="191.20" y="423.53" width="8.60" height="16.07" fill="#000" stroke="#000" stroke-width="0.8" />
<rect x="199.80" y="424.33" width="8.50" height="15.27" fill="#fff" stroke="#000" stroke-width="0.8" />
<rect x="199.80" y="424.33" width="8.50" height="15.27" fill="url(#h2)" stroke="#000" stroke-width="0.8" />
<rect x="208.30" y="424.33" width="7.40" height="15.27" fill="#fff" stroke="#000" stroke-width="0.8" />
<rect x="229.60" y="423.53" width="7.70" height="16.07" fill="#000" stroke="#000" stroke-width="0.8" />
<rect x="237.30" y="424.33" width="9.00" height="15.27" fill="#fff" stroke="#000" stroke-width="0.8" />
<rect x="237.30" y="424.33" width="9.00" height="15.27" fill="url(#h2)" stroke="#000" stroke-width="0.8" />
<rect x="246.60" y="424.33" width="7.90" height="15.27" fill="#fff" stroke="#000" stroke-width="0.8" />
<rect x="266.90" y="402.79" width="8.90" height="36.81" fill="#000" stroke="#000" stroke-width="0.8" />
<line x1="271.35" y1="402.79" x2="271.35" y2="394.75" stroke="#000" stroke-width="1" />
<line x1="268.85" y1="394.75" x2="273.85" y2="394.75" stroke="#000" stroke-width="1" />
<rect x="275.80" y="421.92" width="8.00" height="17.68" fill="#fff" stroke="#000" stroke-width="0.8" />
<rect x="275.80" y="421.92" width="8.00" height="17.68" fill="url(#h2)" stroke="#000" stroke-width="0.8" />
<rect x="283.80" y="411.95" width="8.90" height="27.65" fill="#fff" stroke="#000" stroke-width="0.8" />
<line x1="288.25" y1="411.95" x2="288.25" y2="409.86" stroke="#000" stroke-width="1" />
<line x1="285.75" y1="409.86" x2="290.75" y2="409.86" stroke="#000" stroke-width="1" />
<text transform="translate(171.90,446.55) rotate(-90) scale(1.234,1)" font-size="7.17" font-weight="bold" font-family='"Liberation Sans", sans-serif' fill="#000" text-anchor="start">efflux blocking ratio</text>
<text transform="translate(195.67,387.62) scale(1.025,1)" font-size="8.03" font-weight="bold" font-family='"Liberation Sans", sans-serif' fill="#000" text-anchor="start">Hoechst</text>
<text transform="translate(191.87,451.21) scale(0.986,1)" font-size="9.12" font-weight="bold" font-family='"Liberation Sans", sans-serif' fill="#000" text-anchor="start">Jurkat</text>
<text transform="translate(229.37,451.21) scale(0.914,1)" font-size="9.44" font-weight="bold" font-family='"Liberation Sans", sans-serif' fill="#000" text-anchor="start">J-GFP</text>
<text transform="translate(264.87,451.21) scale(0.937,1)" font-size="9.44" font-weight="bold" font-family='"Liberation Sans", sans-serif' fill="#000" text-anchor="start">J-BCRP</text>
<line x1="322.00" y1="428.92" x2="436.70" y2="428.92" stroke="#8c8c8c" stroke-width="1" />
<line x1="322.00" y1="418.33" x2="436.70" y2="418.33" stroke="#8c8c8c" stroke-width="1" />
<line x1="322.00" y1="407.75" x2="436.70" y2="407.75" stroke="#8c8c8c" stroke-width="1" />
<line x1="322.00" y1="397.17" x2="436.70" y2="397.17" stroke="#8c8c8c" stroke-width="1" />
<line x1="322.00" y1="386.58" x2="436.70" y2="386.58" stroke="#8c8c8c" stroke-width="1" />
<line x1="322.00" y1="376.00" x2="436.70" y2="376.00" stroke="#8c8c8c" stroke-width="1" />
<line x1="322.00" y1="376.00" x2="322.00" y2="439.50" stroke="#8c8c8c" stroke-width="1" />
<line x1="436.70" y1="376.00" x2="436.70" y2="439.50" stroke="#8c8c8c" stroke-width="1" />
<line x1="319.50" y1="439.50" x2="436.70" y2="439.50" stroke="#8c8c8c" stroke-width="1" />
<line x1="322.00" y1="439.50" x2="322.00" y2="442.00" stroke="#8c8c8c" stroke-width="1" />
<line x1="360.23" y1="439.50" x2="360.23" y2="442.00" stroke="#8c8c8c" stroke-width="1" />
<line x1="398.47" y1="439.50" x2="398.47" y2="442.00" stroke="#8c8c8c" stroke-width="1" />
<line x1="436.70" y1="439.50" x2="436.70" y2="442.00" stroke="#8c8c8c" stroke-width="1" />
<line x1="319.50" y1="439.50" x2="322.00" y2="439.50" stroke="#8c8c8c" stroke-width="1" />
<line x1="319.50" y1="428.92" x2="322.00" y2="428.92" stroke="#8c8c8c" stroke-width="1" />
<line x1="319.50" y1="418.33" x2="322.00" y2="418.33" stroke="#8c8c8c" stroke-width="1" />
<line x1="319.50" y1="407.75" x2="322.00" y2="407.75" stroke="#8c8c8c" stroke-width="1" />
<line x1="319.50" y1="397.17" x2="322.00" y2="397.17" stroke="#8c8c8c" stroke-width="1" />
<line x1="319.50" y1="386.58" x2="322.00" y2="386.58" stroke="#8c8c8c" stroke-width="1" />
<line x1="319.50" y1="376.00" x2="322.00" y2="376.00" stroke="#8c8c8c" stroke-width="1" />
<text transform="translate(316.26,442.91)" font-size="9.01" font-weight="bold" font-family='"Liberation Sans", sans-serif' fill="#000" text-anchor="start">0</text>
<text transform="translate(315.98,421.83)" font-size="9.28" font-weight="bold" font-family='"Liberation Sans", sans-serif' fill="#000" text-anchor="start">1</text>
<text transform="translate(316.19,400.67)" font-size="9.14" font-weight="bold" font-family='"Liberation Sans", sans-serif' fill="#000" text-anchor="start">2</text>
<text transform="translate(316.21,379.41)" font-size="9.01" font-weight="bold" font-family='"Liberation Sans", sans-serif' fill="#000" text-anchor="start">3</text>
<rect x="322.00" y="416.83" width="114.70" height="3.00" fill="#000" />
<rect x="328.90" y="414.10" width="7.70" height="25.40" fill="#000" stroke="#000" stroke-width="0.8" />
<rect x="336.60" y="416.22" width="9.00" height="23.28" fill="#fff" stroke="#000" stroke-width="0.8" />
<rect x="336.60" y="416.22" width="9.00" height="23.28" fill="url(#h2)" stroke="#000" stroke-width="0.8" />
<line x1="341.10" y1="416.22" x2="341.10" y2="415.79" stroke="#000" stroke-width="1" />
<line x1="338.60" y1="415.79" x2="343.60" y2="415.79" stroke="#000" stroke-width="1" />
<rect x="345.60" y="421.08" width="8.20" height="18.42" fill="#fff" stroke="#000" stroke-width="0.8" />
<line x1="349.70" y1="421.08" x2="349.70" y2="420.03" stroke="#000" stroke-width="1" />
<line x1="347.20" y1="420.03" x2="352.20" y2="420.03" stroke="#000" stroke-width="1" />
<rect x="366.30" y="417.27" width="8.60" height="22.23" fill="#000" stroke="#000" stroke-width="0.8" />
<line x1="370.60" y1="417.27" x2="370.60" y2="414.10" stroke="#000" stroke-width="1" />
<line x1="368.10" y1="414.10" x2="373.10" y2="414.10" stroke="#000" stroke-width="1" />
<rect x="374.90" y="414.74" width="8.60" height="24.76" fill="#fff" stroke="#000" stroke-width="0.8" />
<rect x="374.90" y="414.74" width="8.60" height="24.76" fill="url(#h2)" stroke="#000" stroke-width="0.8" />
<line x1="379.20" y1="414.74" x2="379.20" y2="412.62" stroke="#000" stroke-width="1" />
<line x1="376.70" y1="412.62" x2="381.70" y2="412.62" stroke="#000" stroke-width="1" />
<rect x="383.50" y="414.74" width="8.90" height="24.76" fill="#fff" stroke="#000" stroke-width="0.8" />
<line x1="387.95" y1="414.74" x2="387.95" y2="412.19" stroke="#000" stroke-width="1" />
<line x1="385.45" y1="412.19" x2="390.45" y2="412.19" stroke="#000" stroke-width="1" />
<rect x="405.00" y="392.93" width="8.00" height="46.57" fill="#000" stroke="#000" stroke-width="0.8" />
<line x1="409.00" y1="392.93" x2="409.00" y2="389.55" stroke="#000" stroke-width="1" />
<line x1="406.50" y1="389.55" x2="411.50" y2="389.55" stroke="#000" stroke-width="1" />
<rect x="413.00" y="405.63" width="9.00" height="33.87" fill="#fff" stroke="#000" stroke-width="0.8" />
<rect x="413.00" y="405.63" width="9.00" height="33.87" fill="url(#h2)" stroke="#000" stroke-width="0.8" />
<rect x="422.00" y="405.63" width="8.90" height="33.87" fill="#fff" stroke="#000" stroke-width="0.8" />
<line x1="426.45" y1="405.63" x2="426.45" y2="402.46" stroke="#000" stroke-width="1" />
<line x1="423.95" y1="402.46" x2="428.95" y2="402.46" stroke="#000" stroke-width="1" />
<text transform="translate(327.37,382.93) scale(1.091,1)" font-size="7.48" font-weight="bold" font-family='"Liberation Sans", sans-serif' fill="#000" text-anchor="start">Mitoxantrone</text>
<text transform="translate(326.27,452.41) scale(0.962,1)" font-size="9.12" font-weight="bold" font-family='"Liberation Sans", sans-serif' fill="#000" text-anchor="start">Jurkat</text>
<text transform="translate(363.17,452.41) scale(0.935,1)" font-size="9.44" font-weight="bold" font-family='"Liberation Sans", sans-serif' fill="#000" text-anchor="start">J-GFP</text>
<text transform="translate(402.17,452.41) scale(0.894,1)" font-size="9.44" font-weight="bold" font-family='"Liberation Sans", sans-serif' fill="#000" text-anchor="start">J-BCRP</text>
</svg>
</body></html>
